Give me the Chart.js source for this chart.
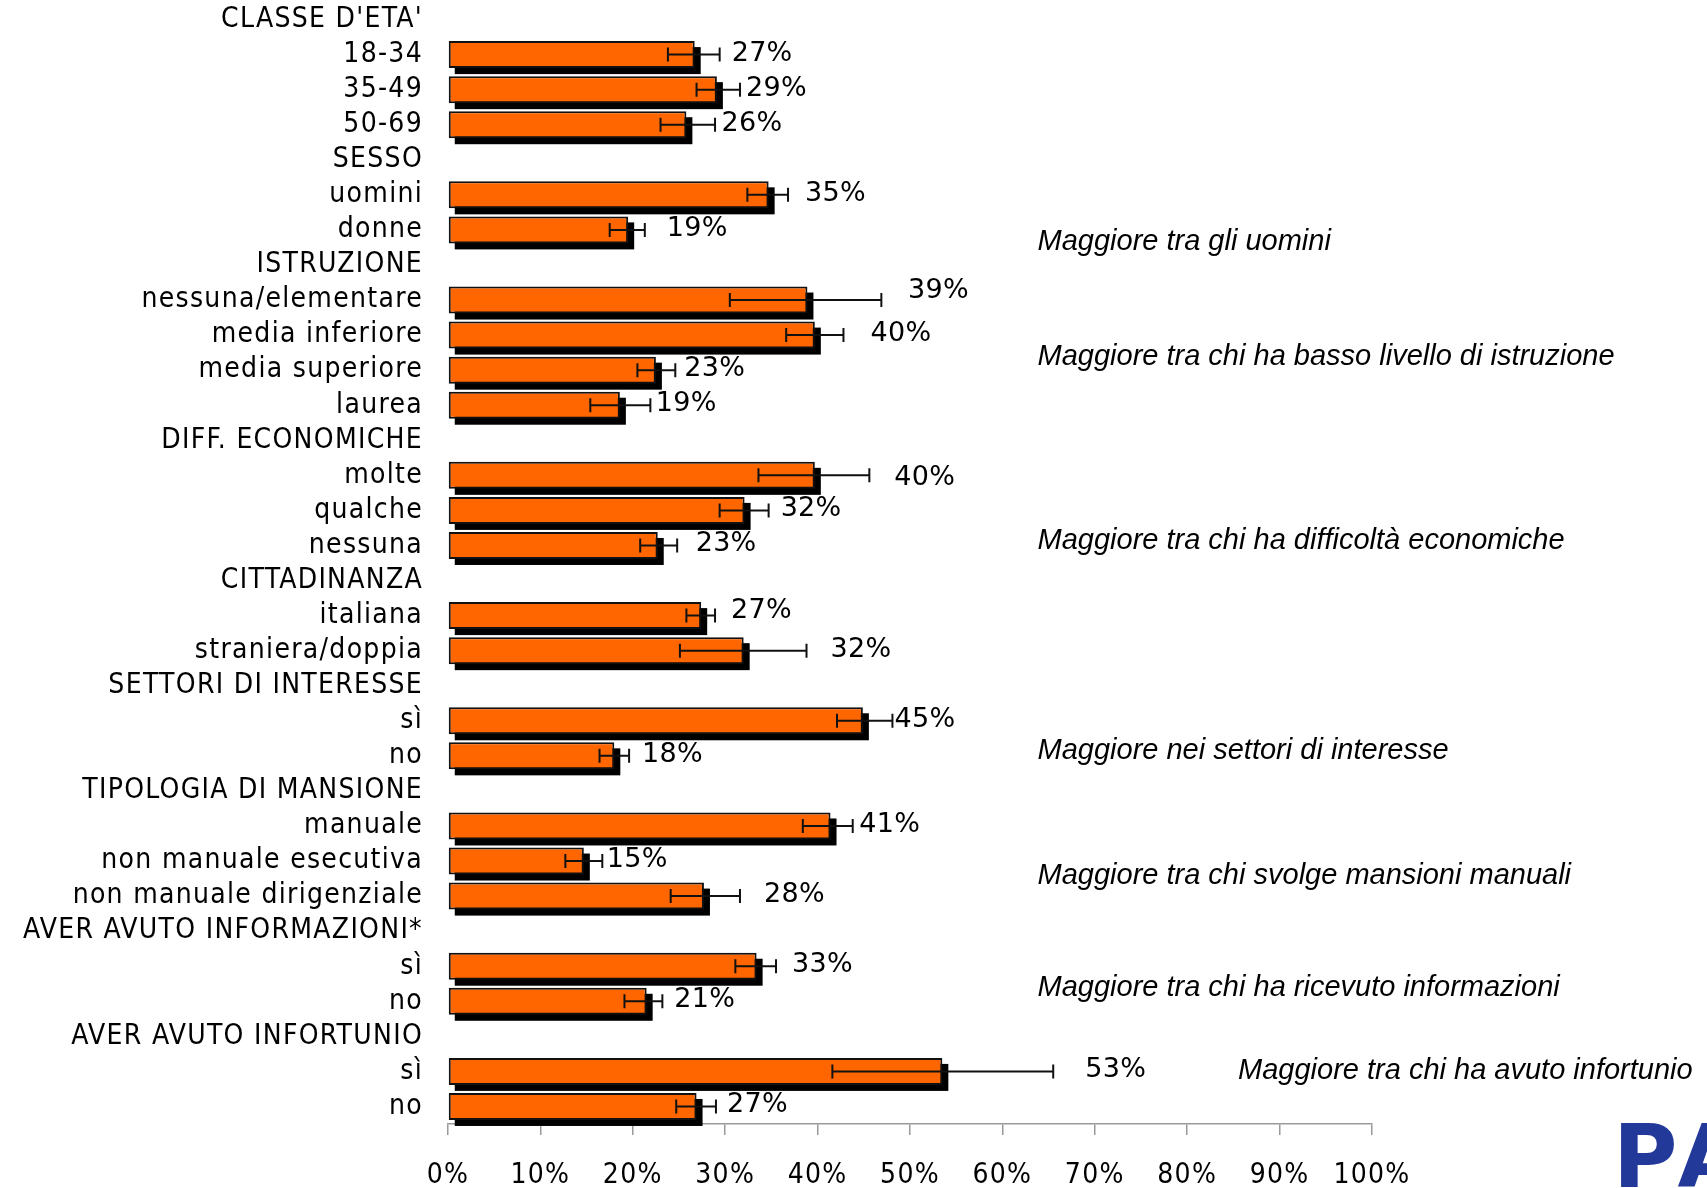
<!DOCTYPE html>
<html>
<head>
<meta charset="utf-8">
<script src="https://cdn.jsdelivr.net/npm/chart.js@4.4.0/dist/chart.umd.min.js"></script>
<style>
  html, body { margin: 0; padding: 0; background: #fff; }
</style>
</head>
<body>
<canvas id="myBarChart" width="1707" height="1188"></canvas>
<script>
// --- data ---
const categories = [
  "CLASSE D'ETA'", '18-34', '35-49', '50-69',
  'SESSO', 'uomini', 'donne',
  'ISTRUZIONE', 'nessuna/elementare', 'media inferiore', 'media superiore', 'laurea',
  'DIFF. ECONOMICHE', 'molte', 'qualche', 'nessuna',
  'CITTADINANZA', 'italiana', 'straniera/doppia',
  'SETTORI DI INTERESSE', 'sì', 'no',
  'TIPOLOGIA DI MANSIONE', 'manuale', 'non manuale esecutiva', 'non manuale dirigenziale',
  'AVER AVUTO INFORMAZIONI*', 'sì', 'no',
  'AVER AVUTO INFORTUNIO', 'sì', 'no'
];
const values = [null, 26.7, 29.1, 25.8, null, 34.7, 19.5, null, 38.9, 39.7, 22.5, 18.6,
  null, 39.7, 32.1, 22.7, null, 27.4, 32.0, null, 44.9, 18.0, null, 41.4, 14.7, 27.7,
  null, 33.4, 21.5, null, 53.5, 26.9];
const errLow = [null, 23.8, 26.9, 23.0, null, 32.4, 17.5, null, 30.5, 36.6, 20.5, 15.4,
  null, 33.6, 29.4, 20.8, null, 25.8, 25.1, null, 42.1, 16.4, null, 38.4, 12.7, 24.1,
  null, 31.1, 19.1, null, 41.6, 24.7];
const errHigh = [null, 29.4, 31.6, 28.9, null, 36.8, 21.3, null, 46.9, 42.8, 24.6, 21.9,
  null, 45.6, 34.7, 24.8, null, 28.9, 38.8, null, 48.1, 19.6, null, 43.8, 16.7, 31.6,
  null, 35.5, 23.2, null, 65.5, 29.0];
const valueLabels = ['', '27%', '29%', '26%', '', '35%', '19%', '', '39%', '40%', '23%', '19%',
  '', '40%', '32%', '23%', '', '27%', '32%', '', '45%', '18%', '', '41%', '15%', '28%',
  '', '33%', '21%', '', '53%', '27%'];
const xTicks = [0, 10, 20, 30, 40, 50, 60, 70, 80, 90, 100];
const notes = [
  'Maggiore tra gli uomini',
  'Maggiore tra chi ha basso livello di istruzione',
  'Maggiore tra chi ha difficoltà economiche',
  'Maggiore nei settori di interesse',
  'Maggiore tra chi svolge mansioni manuali',
  'Maggiore tra chi ha ricevuto informazioni',
  'Maggiore tra chi ha avuto infortunio'
];

// --- layout / style ---
const noteRow = [6.33, 9.63, 14.87, 20.86, 24.43, 27.62, 29.99];
const noteAt = [63.8, 63.8, 63.8, 63.8, 63.8, 63.8, 85.5];
// gap (px) between error bar end and value label, and vertical nudge
const labelGap = [0, 12, 6, 6.5, 0, 17, 22, 0, 26.6, 27, 9, 5.5, 0, 25, 12, 18.5, 0, 16, 24,
  0, 2, 13, 0, 6.5, 4.5, 24, 0, 16, 12, 0, 32, 11];
const labelLift = {8: -9, 13: 3, 17: -5};
const condensed = "'DejaVu Sans Condensed', 'DejaVu Sans', sans-serif";

const decor = {
  id: 'decor',
  beforeDraw(chart) {
    chart.ctx.letterSpacing = '1.3px';
  },
  beforeDatasetsDraw(chart) {
    const ctx = chart.ctx;
    ctx.letterSpacing = '0px';
    const meta = chart.getDatasetMeta(0);
    ctx.save();
    ctx.fillStyle = '#000';
    meta.data.forEach(function(bar) {
      const p = bar.getProps(['x', 'y', 'base', 'height'], true);
      if (!isFinite(p.x)) return;
      ctx.fillRect(p.base + 6, p.y - p.height / 2 + 6, p.x - p.base, p.height);
    });
    ctx.restore();
  },
  afterDatasetsDraw(chart) {
    const ctx = chart.ctx;
    const xs = chart.scales.x;
    const meta = chart.getDatasetMeta(0);
    ctx.save();
    ctx.strokeStyle = '#111';
    ctx.lineWidth = 2;
    ctx.fillStyle = '#000';
    ctx.font = "27px 'DejaVu Sans'";
    ctx.letterSpacing = '0.3px';
    ctx.textBaseline = 'middle';
    ctx.textAlign = 'left';
    meta.data.forEach(function(bar, i) {
      if (values[i] === null) return;
      const y = bar.y;
      const x1 = xs.getPixelForValue(errLow[i]);
      const x2 = xs.getPixelForValue(errHigh[i]);
      ctx.beginPath();
      ctx.moveTo(x1, y); ctx.lineTo(x2, y);
      ctx.moveTo(x1, y - 7); ctx.lineTo(x1, y + 7);
      ctx.moveTo(x2, y - 7); ctx.lineTo(x2, y + 7);
      ctx.stroke();
      ctx.fillText(valueLabels[i], x2 + labelGap[i], y + (labelLift[i] || -1));
    });
    ctx.restore();
  },
  afterDraw(chart) {
    const ctx = chart.ctx;
    const xs = chart.scales.x, ys = chart.scales.y;
    ctx.save();
    ctx.letterSpacing = '0px';
    ctx.fillStyle = '#000';
    ctx.font = "italic 29px 'Liberation Sans', Arial, sans-serif";
    ctx.textBaseline = 'middle';
    ctx.textAlign = 'left';
    notes.forEach(function(t, i) {
      ctx.fillText(t, xs.getPixelForValue(noteAt[i]), ys.getPixelForValue(noteRow[i]));
    });
    // logo fragment in the corner
    ctx.font = "bold 88px 'DejaVu Sans', sans-serif";
    ctx.letterSpacing = '8px';
    ctx.fillStyle = '#23399a';
    ctx.textBaseline = 'alphabetic';
    ctx.fillText('PASSI', 1613, 1187);
    ctx.restore();
  }
};

const ctx = document.getElementById('myBarChart').getContext('2d');
const myChart = new Chart(ctx, {
  type: 'bar',
  data: {
    labels: categories,
    datasets: [{
      data: values,
      backgroundColor: '#FF6600',
      borderColor: '#111',
      borderWidth: 2,
      borderSkipped: false,
      barPercentage: 0.77,
      categoryPercentage: 1
    }]
  },
  options: {
    indexAxis: 'y',
    responsive: false,
    animation: false,
    maintainAspectRatio: false,
    layout: { padding: { left: 0, right: 335, top: 2, bottom: 0 } },
    plugins: {
      legend: { display: false },
      tooltip: { enabled: false }
    },
    scales: {
      x: {
        min: 0,
        max: 100,
        afterBuildTicks: function(scale) {
          scale.ticks = xTicks.map(function(v) { return { value: v }; });
        },
        afterFit: function(scale) { scale.height = 64; },
        grid: { drawOnChartArea: false, drawTicks: true, tickLength: 11, color: '#9a9a9a', lineWidth: 1.5 },
        border: { display: true, color: '#9a9a9a', width: 1.5 },
        ticks: {
          padding: 24,
          color: '#000',
          font: { family: condensed, size: 28 },
          maxRotation: 0,
          autoSkip: false,
          callback: function(v) { return v + '%'; }
        }
      },
      y: {
        afterFit: function(scale) {
          scale.width = 448;
          scale.paddingTop = 0;
          scale.paddingBottom = 0;
        },
        grid: { display: false, drawTicks: false },
        border: { display: false },
        ticks: {
          padding: 25,
          color: '#000',
          autoSkip: false,
          font: { family: condensed, size: 28 }
        }
      }
    }
  },
  plugins: [decor]
});
</script>
</body>
</html>
